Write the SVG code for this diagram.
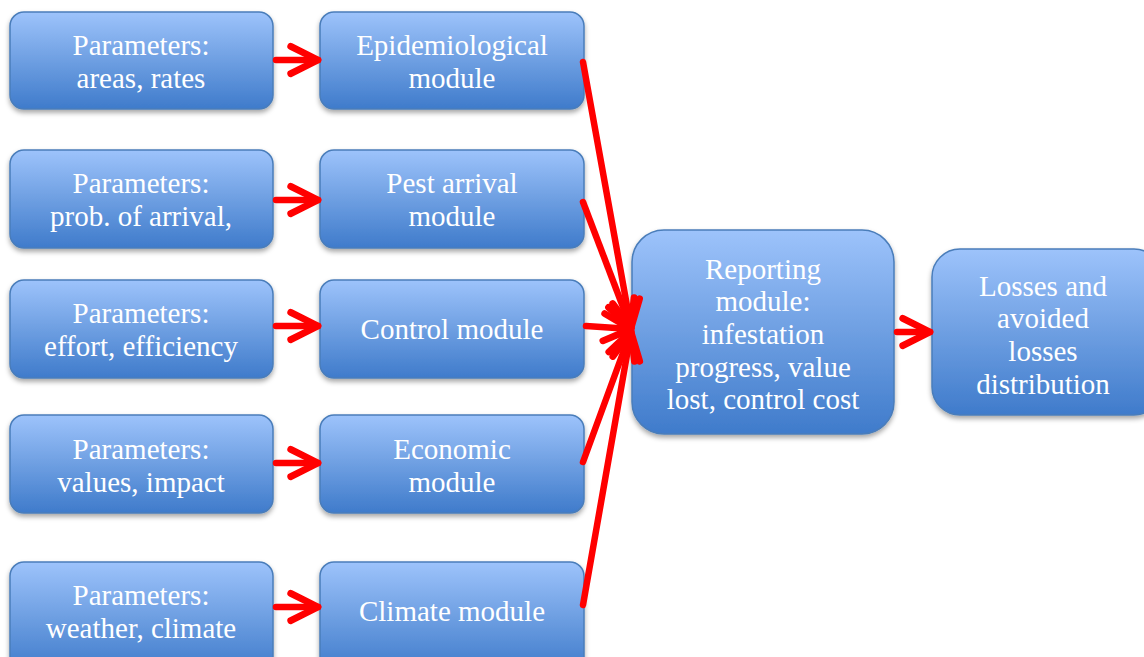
<svg xmlns="http://www.w3.org/2000/svg" width="1144" height="657" viewBox="0 0 1144 657">
  <defs>
    <linearGradient id="boxFill" x1="0" y1="0" x2="0" y2="1">
      <stop offset="0" stop-color="#9DC3FB"/>
      <stop offset="0.5" stop-color="#6E9FE2"/>
      <stop offset="1" stop-color="#3F7BCB"/>
    </linearGradient>
    <filter id="shadow" x="-10%" y="-10%" width="120%" height="130%">
      <feDropShadow dx="0" dy="3" stdDeviation="2.5" flood-color="#000" flood-opacity="0.35"/>
    </filter>
    <marker id="chevron" markerUnits="userSpaceOnUse" markerWidth="40" markerHeight="40" viewBox="-40 -20 44 40" refX="0" refY="0" orient="auto" overflow="visible">
      <path d="M -30 -15 L 0 0 L -30 15" fill="none" stroke="#FF0000" stroke-width="7.5" stroke-linecap="round" stroke-linejoin="round"/>
    </marker>
    <style>
      .box { fill: url(#boxFill); stroke: #4A7DBA; stroke-width: 1.5; filter: url(#shadow); }
      .label { font-family: "Liberation Serif", "DejaVu Serif", serif; font-size: 29px; fill: #FFFFFF; text-anchor: middle; }
      .link { stroke: #FF0000; stroke-width: 6.5; fill: none; stroke-linecap: round; marker-end: url(#chevron); }
    </style>
  </defs>

  <!-- parameter inputs -->
  <g id="param-areas">
    <rect class="box" x="10" y="12" width="263" height="97" rx="14"/>
    <text class="label" x="141" y="55">Parameters:</text>
    <text class="label" x="141" y="88">areas, rates</text>
  </g>
  <g id="param-arrival">
    <rect class="box" x="10" y="150" width="263" height="98" rx="14"/>
    <text class="label" x="141" y="193">Parameters:</text>
    <text class="label" x="141" y="226">prob. of arrival,</text>
  </g>
  <g id="param-effort">
    <rect class="box" x="10" y="280" width="263" height="98" rx="14"/>
    <text class="label" x="141" y="323">Parameters:</text>
    <text class="label" x="141" y="356">effort, efficiency</text>
  </g>
  <g id="param-values">
    <rect class="box" x="10" y="415" width="263" height="98" rx="14"/>
    <text class="label" x="141" y="459">Parameters:</text>
    <text class="label" x="141" y="492">values, impact</text>
  </g>
  <g id="param-weather">
    <rect class="box" x="10" y="562" width="263" height="110" rx="14"/>
    <text class="label" x="141" y="605">Parameters:</text>
    <text class="label" x="141" y="638">weather, climate</text>
  </g>

  <!-- modules -->
  <g id="mod-epidemiological">
    <rect class="box" x="320" y="12" width="264" height="97" rx="14"/>
    <text class="label" x="452" y="55">Epidemiological</text>
    <text class="label" x="452" y="88">module</text>
  </g>
  <g id="mod-pest-arrival">
    <rect class="box" x="320" y="150" width="264" height="98" rx="14"/>
    <text class="label" x="452" y="193">Pest arrival</text>
    <text class="label" x="452" y="226">module</text>
  </g>
  <g id="mod-control">
    <rect class="box" x="320" y="280" width="264" height="98" rx="14"/>
    <text class="label" x="452" y="339">Control module</text>
  </g>
  <g id="mod-economic">
    <rect class="box" x="320" y="415" width="264" height="98" rx="14"/>
    <text class="label" x="452" y="459">Economic</text>
    <text class="label" x="452" y="492">module</text>
  </g>
  <g id="mod-climate">
    <rect class="box" x="320" y="562" width="264" height="110" rx="14"/>
    <text class="label" x="452" y="621">Climate module</text>
  </g>

  <!-- reporting and output -->
  <g id="mod-reporting">
    <rect class="box" x="632" y="230" width="262" height="204" rx="32"/>
    <text class="label" x="763" y="279">Reporting</text>
    <text class="label" x="763" y="311">module:</text>
    <text class="label" x="763" y="344">infestation</text>
    <text class="label" x="763" y="377">progress, value</text>
    <text class="label" x="763" y="409">lost, control cost</text>
  </g>
  <g id="losses">
    <rect class="box" x="932" y="249" width="230" height="166" rx="28"/>
    <text class="label" x="1043" y="296">Losses and</text>
    <text class="label" x="1043" y="328">avoided</text>
    <text class="label" x="1043" y="361">losses</text>
    <text class="label" x="1043" y="394">distribution</text>
  </g>

  <!-- connectors -->
  <g id="connectors">
    <line class="link" x1="276" y1="60" x2="318" y2="60"/>
    <line class="link" x1="276" y1="200" x2="318" y2="200"/>
    <line class="link" x1="276" y1="326" x2="318" y2="326"/>
    <line class="link" x1="276" y1="463" x2="318" y2="463"/>
    <line class="link" x1="276" y1="607" x2="318" y2="607"/>

    <line class="link" x1="583" y1="62" x2="631" y2="328"/>
    <line class="link" x1="583" y1="202" x2="631" y2="328"/>
    <line class="link" x1="586" y1="326" x2="631" y2="329"/>
    <line class="link" x1="583" y1="462" x2="631" y2="331"/>
    <line class="link" x1="583" y1="605" x2="631" y2="332"/>

    <line class="link" x1="897" y1="332" x2="930" y2="332"/>
  </g>
</svg>
